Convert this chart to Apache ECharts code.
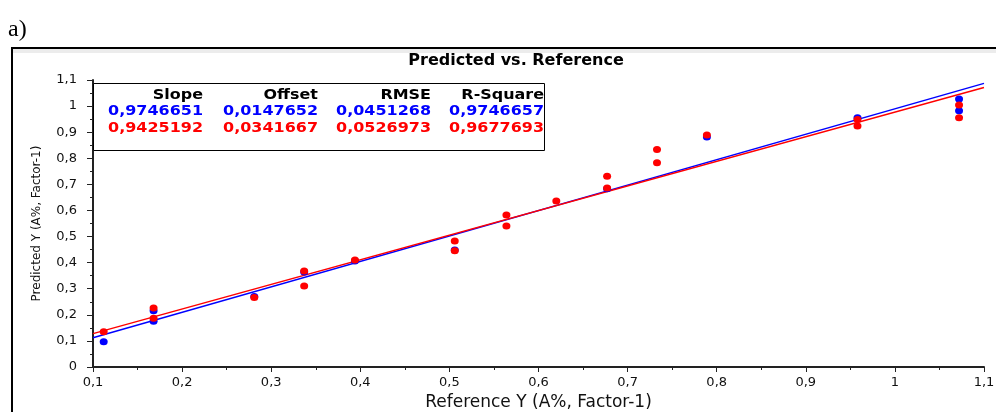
<!DOCTYPE html>
<html>
<head>
<meta charset="utf-8">
<script src="https://cdn.jsdelivr.net/npm/echarts@6/dist/echarts.min.js"></script>
<style>
  html, body { margin: 0; padding: 0; background: #fff; }
  #chart { width: 996px; height: 412px; }
</style>
</head>
<body>
<div id="chart"></div>
<script>
// Predicted vs. Reference, blue and red sample sets with their fit lines

const refBlue  = [0.112, 0.168, 0.168, 0.281, 0.337, 0.394, 0.506, 0.677, 0.789, 0.958, 1.072, 1.072];
const predBlue = [0.097, 0.216, 0.175, 0.270, 0.364, 0.406, 0.448, 0.683, 0.882, 0.955, 1.027, 0.982];

const refRed  = [0.112, 0.168, 0.168, 0.281, 0.337, 0.337, 0.394, 0.506, 0.506, 0.564, 0.564, 0.620, 0.677, 0.677, 0.733, 0.733, 0.789, 0.958, 0.958, 1.072, 1.072];
const predRed = [0.135, 0.226, 0.187, 0.266, 0.368, 0.310, 0.410, 0.483, 0.446, 0.583, 0.540, 0.636, 0.731, 0.686, 0.834, 0.783, 0.889, 0.949, 0.924, 1.004, 0.955];

// fit line end points (x from axis start to axis end)
const fitX     = [0.1, 1.1];
const fitBlueY = [0.112, 1.087];
const fitRedY  = [0.128, 1.071];

const statHeaders = ['Slope', 'Offset', 'RMSE', 'R-Square'];
const statsBlue   = ['0,9746651', '0,0147652', '0,0451268', '0,9746657'];
const statsRed    = ['0,9425192', '0,0341667', '0,0526973', '0,9677693'];

const BLUE = '#0000ff';
const RED = '#ff0000';
const AXIS = '#222';
const FONT = '"DejaVu Sans", Verdana, sans-serif';

const pairs = (xs, ys) => xs.map((x, i) => [x, ys[i]]);
const fmt = v => String(parseFloat(v.toFixed(2))).replace('.', ',');

const chart = echarts.init(document.getElementById('chart'));

// stats box text, right aligned per column
const colRight = [203, 318, 431, 544];
const rowY = [95, 111, 128];
const statRows = [[statHeaders, '#000'], [statsBlue, BLUE], [statsRed, RED]];
const statTexts = [];
statRows.forEach(([row, color], r) => {
  row.forEach((t, c) => {
    statTexts.push({
      type: 'text', x: colRight[c], y: rowY[r], scaleX: 1.14, z: 20,
      style: {
        text: t, align: 'right', verticalAlign: 'middle', fill: color,
        font: 'bold 14px ' + FONT,
      },
    });
  });
});

chart.setOption({
  animation: false,
  backgroundColor: '#fff',
  graphic: [
    { type: 'text', x: 8, y: 18, style: { text: 'a)', fill: '#000', font: '24px "Liberation Serif", "Times New Roman", serif', verticalAlign: 'top' } },
    { type: 'rect', shape: { x: 13, y: 49, width: 1000, height: 4 }, style: { fill: '#ececec' }, z: 0 },
    { type: 'rect', shape: { x: 12, y: 48, width: 1000, height: 400 }, style: { fill: 'none', stroke: '#000', lineWidth: 2 }, z: 1 },
    { type: 'text', x: 516, y: 61, z: 20,
      style: { text: 'Predicted vs. Reference', align: 'center', verticalAlign: 'middle', fill: '#000',
        font: 'bold 16px ' + FONT } },
    { type: 'rect', shape: { x: 93.5, y: 83.5, width: 451, height: 67 }, style: { fill: '#fff', stroke: '#000', lineWidth: 1 }, z: 15 },
    ...statTexts,
  ],
  grid: { left: 93, right: 12, top: 80, bottom: 45, outerBoundsMode: 'none' },
  xAxis: {
    type: 'value', min: 0.1, max: 1.1, interval: 0.1,
    name: 'Reference Y (A%, Factor-1)', nameLocation: 'middle', nameGap: 22,
    nameTextStyle: { color: '#111', fontSize: 17, fontFamily: FONT },
    axisLine: { lineStyle: { color: AXIS, width: 2 } },
    axisTick: { length: 5, lineStyle: { color: AXIS } },
    minorTick: { show: true, splitNumber: 2, length: 3, lineStyle: { color: AXIS } },
    axisLabel: { color: '#111', fontSize: 13, fontFamily: FONT, margin: 9, formatter: fmt },
    splitLine: { show: false },
  },
  yAxis: {
    type: 'value', min: 0, max: 1.1, interval: 0.1,
    name: 'Predicted Y (A%, Factor-1)', nameLocation: 'middle', nameGap: 50,
    nameTextStyle: { color: '#111', fontSize: 12, fontFamily: FONT },
    axisLine: { lineStyle: { color: AXIS, width: 2 } },
    axisTick: { length: 6, lineStyle: { color: AXIS } },
    minorTick: { show: true, splitNumber: 2, length: 3, lineStyle: { color: AXIS } },
    axisLabel: { color: '#111', fontSize: 13, fontFamily: FONT, margin: 16, formatter: fmt },
    splitLine: { show: false },
  },
  series: [
    { name: 'fit blue', type: 'line', data: pairs(fitX, fitBlueY), showSymbol: false, z: 2,
      lineStyle: { color: BLUE, width: 1.5 } },
    { name: 'fit red', type: 'line', data: pairs(fitX, fitRedY), showSymbol: false, z: 2,
      lineStyle: { color: RED, width: 1.5 } },
    { name: 'blue', type: 'scatter', data: pairs(refBlue, predBlue), symbol: 'circle', symbolSize: [8, 7], z: 3,
      itemStyle: { color: BLUE, opacity: 1 } },
    { name: 'red', type: 'scatter', data: pairs(refRed, predRed), symbol: 'circle', symbolSize: [8, 7], z: 4,
      itemStyle: { color: RED, opacity: 1 } },
  ],
});
</script>
</body>
</html>
